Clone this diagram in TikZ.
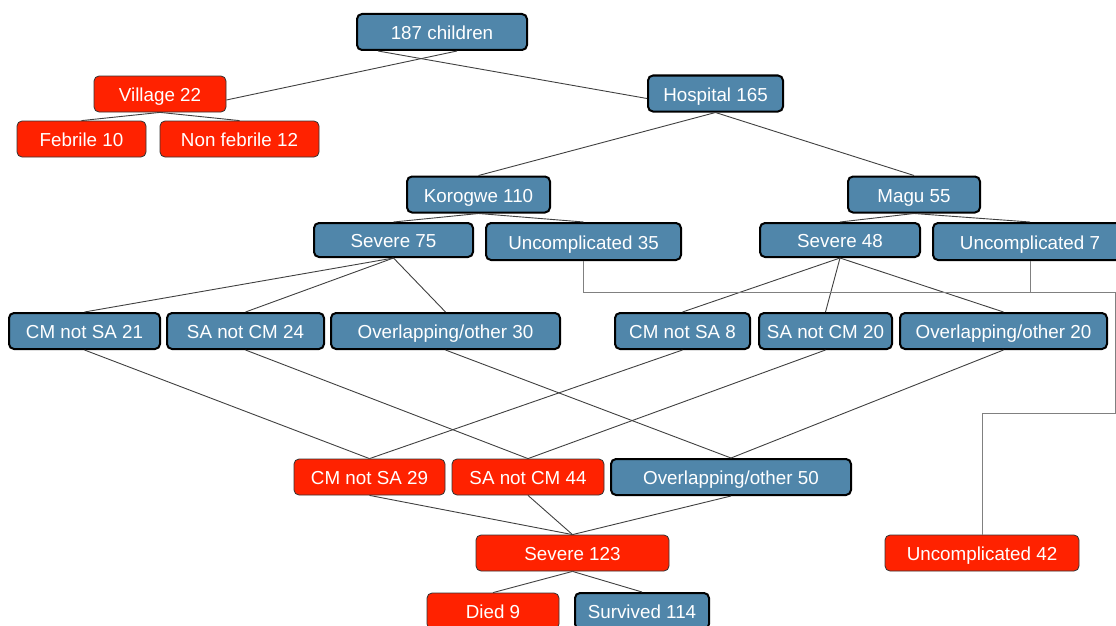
\documentclass[tikz,border=0pt]{standalone}
\usepackage{fontspec}
\setmainfont{Liberation Sans}
\usetikzlibrary{positioning}
\definecolor{boxblue}{HTML}{5086AA}
\definecolor{boxred}{HTML}{FF2200}

\begin{document}
\begin{tikzpicture}[x=1pt, y=-1pt,
        cell/.style={rounded corners=5pt, text=white, inner sep=0pt,
                     font=\fontsize{18.8}{22}\selectfont, minimum height=36pt,
                     text height=15.8pt, text depth=0pt},
        bluebox/.style={cell, fill=boxblue, draw=black, line width=2pt},
        redbox/.style={cell, fill=boxred, draw=black!80, line width=0.8pt},
        link/.style={draw=black!75, line width=0.9pt},
        flow/.style={draw=black!50, line width=0.9pt},
    ]
    \clip (0,0) rectangle (1116,626);

    % ---- Top levels ----
    \node[bluebox, minimum width=170pt] (kids) at (442, 32) {187 children};
    \node[redbox, minimum width=132pt] (vil) at (160, 94) {Village 22};
    \node[redbox, minimum width=129pt] (feb) at (81.5, 139) {Febrile 10};
    \node[redbox, minimum width=159pt] (nofeb) at (239.5, 139) {Non febrile 12};
    \node[bluebox, minimum width=135pt] (hosp) at (715.5, 93.5) {Hospital 165};

    % ---- Sites ----
    \node[bluebox, minimum width=143pt] (kor) at (478.5, 194.5) {Korogwe 110};
    \node[bluebox, minimum width=132pt] (mag) at (914, 194.5) {Magu 55};
    \node[bluebox, minimum width=159pt, minimum height=34pt] (korsev) at (393.5, 240) {Severe 75};
    \node[bluebox, minimum width=195pt, minimum height=37pt] (korunc) at (583.5, 241.5) {Uncomplicated 35};
    \node[bluebox, minimum width=160pt, minimum height=34pt] (magsev) at (840, 240) {Severe 48};
    \node[bluebox, minimum width=194pt, minimum height=37pt] (magunc) at (1030, 241.5) {Uncomplicated 7};

    % ---- Severe subgroups per site ----
    \node[bluebox, minimum width=151pt] (korcm) at (84.5, 331) {CM not SA 21};
    \node[bluebox, minimum width=157pt] (korsa) at (245.5, 331) {SA not CM 24};
    \node[bluebox, minimum width=229pt] (korov) at (445.5, 331) {Overlapping/other 30};
    \node[bluebox, minimum width=135pt] (magcm) at (682.5, 331) {CM not SA 8};
    \node[bluebox, minimum width=133pt] (magsa) at (825.5, 331) {SA not CM 20};
    \node[bluebox, minimum width=207pt] (magov) at (1003.5, 331) {Overlapping/other 20};

    % ---- Pooled subgroups ----
    \node[redbox, minimum width=151pt] (allcm) at (369.5, 477) {CM not SA 29};
    \node[redbox, minimum width=152pt] (allsa) at (528, 477) {SA not CM 44};
    \node[bluebox, minimum width=240pt] (allov) at (731, 477) {Overlapping/other 50};

    % ---- Outcomes ----
    \node[redbox, minimum width=193pt] (sev) at (572.5, 553) {Severe 123};
    \node[redbox, minimum width=194pt] (unc) at (982, 553) {Uncomplicated 42};
    \node[redbox, minimum width=132pt] (died) at (493, 611) {Died 9};
    \node[bluebox, minimum width=134pt] (surv) at (642, 611) {Survived 114};

    % ---- Tree links ----
    \draw[link] ([xshift=15pt]kids.south) -- ([yshift=-6pt]vil.east);
    \draw[link] ([xshift=-64pt]kids.south) -- ([yshift=-5pt]hosp.west);
    \draw[link] (vil.south) -- (feb.north);
    \draw[link] (vil.south) -- (nofeb.north);
    \draw[link] (hosp.south) -- (kor.north);
    \draw[link] (hosp.south) -- (mag.north);
    \draw[link] (kor.south) -- (korsev.north);
    \draw[link] (kor.south) -- (korunc.north);
    \draw[link] (mag.south) -- (magsev.north);
    \draw[link] (mag.south) -- (magunc.north);
    \foreach \sub in {korcm, korsa, korov}
        \draw[link] (korsev.south) -- (\sub.north);
    \foreach \sub in {magcm, magsa, magov}
        \draw[link] (magsev.south) -- (\sub.north);

    % ---- Pooling across sites ----
    \draw[link] (korcm.south) -- (allcm.north);
    \draw[link] (magcm.south) -- (allcm.north);
    \draw[link] (korsa.south) -- (allsa.north);
    \draw[link] (magsa.south) -- (allsa.north);
    \draw[link] (korov.south) -- (allov.north);
    \draw[link] (magov.south) -- (allov.north);
    \foreach \sub in {allcm, allsa, allov}
        \draw[link] (\sub.south) -- (sev.north);
    \draw[link] (sev.south) -- (died.north);
    \draw[link] (sev.south) -- (surv.north);

    % ---- Uncomplicated route ----
    \coordinate (bus) at (1115, 292);
    \draw[flow] (korunc.south) |- (bus);
    \draw[flow] (magunc.south) -- (magunc.south |- bus);
    \draw[flow] (bus) -- (1115, 413) -| (unc.north);

\end{tikzpicture}
\end{document}
